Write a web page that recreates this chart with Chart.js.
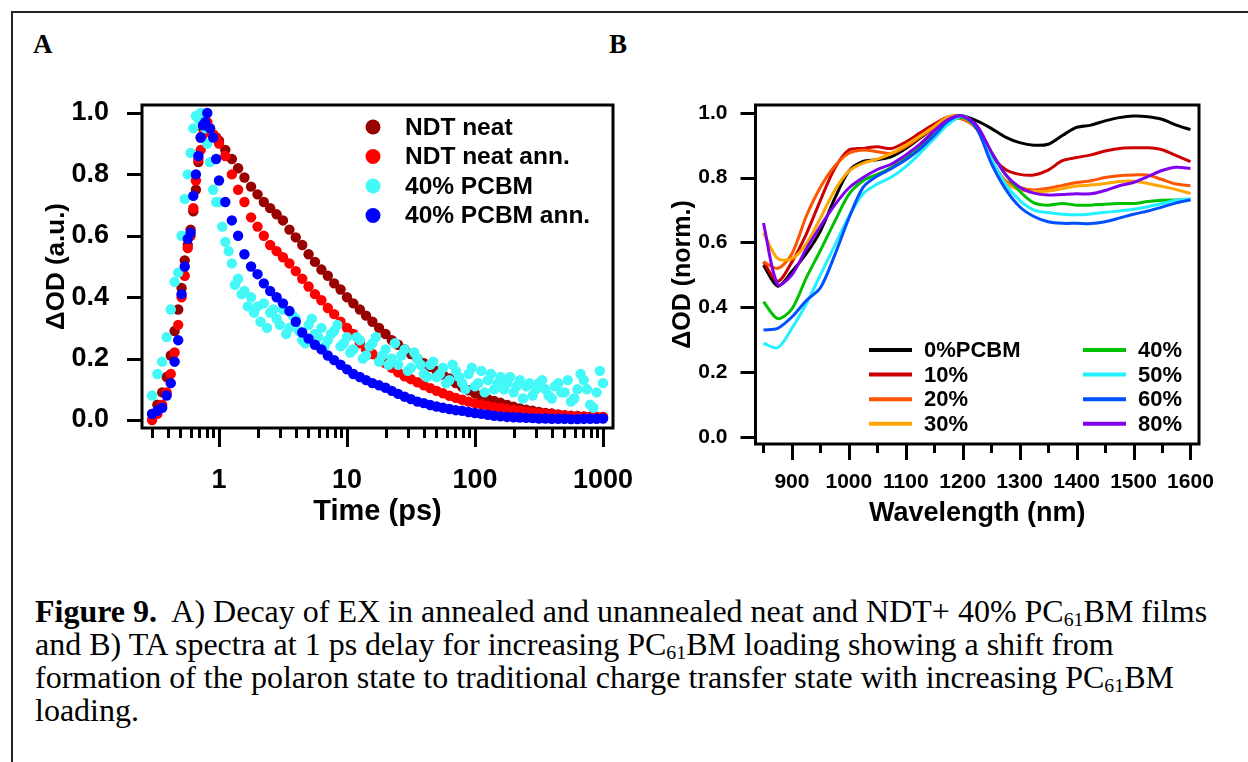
<!DOCTYPE html>
<html>
<head>
<meta charset="utf-8">
<script src="https://cdn.jsdelivr.net/npm/chart.js@4.4.1/dist/chart.umd.min.js"></script>
<style>
  body { margin: 0; background: #fff; }
  #page { position: relative; width: 1248px; height: 762px; overflow: hidden; background: #fff;
          font-family: "Liberation Serif", "Times New Roman", serif; color: #000; }
  .frameTop { position: absolute; left: 11px; top: 11px; width: 1237px; height: 0; border-top: 2px solid #222; }
  .frameLeft { position: absolute; left: 11px; top: 11px; width: 0; height: 751px; border-left: 2px solid #222; }
  .panel { position: absolute; font-weight: bold; font-size: 27px; line-height: 30px; }
  #wrapA { position: absolute; left: 0; top: 80px; width: 640px; height: 470px; }
  #wrapB { position: absolute; left: 640px; top: 80px; width: 608px; height: 470px; }
  #caption { position: absolute; left: 35px; top: 595px; width: 1210px; font-size: 32px; line-height: 33px; white-space: nowrap; }
  #caption sub { font-size: 0.62em; vertical-align: -0.22em; line-height: 0; }
</style>
</head>
<body>
<div id="page">
  <div class="frameTop"></div>
  <div class="frameLeft"></div>
  <div class="panel" style="left:33px; top:29px;">A</div>
  <div class="panel" style="left:609px; top:29px;">B</div>
  <div id="wrapA"><canvas id="chartA" width="640" height="470"></canvas></div>
  <div id="wrapB"><canvas id="chartB" width="608" height="470"></canvas></div>
  <div id="caption"><b>Figure 9.</b>&nbsp; A) Decay of EX in annealed and unannealed neat and NDT+ 40% PC<sub>61</sub>BM films<br>and B) TA spectra at 1 ps delay for increasing PC<sub>61</sub>BM loading showing a shift from<br>formation of the polaron state to traditional charge transfer state with increasing PC<sub>61</sub>BM<br>loading.</div>
</div>
<script>
// ---- panel A: exciton decay (time in ps, log axis) ----
const timePs = [0.30, 0.33, 0.36, 0.39, 0.42, 0.45, 0.48, 0.51, 0.54, 0.57, 0.60, 0.63, 0.66, 0.69, 0.72, 0.75, 0.78, 0.81, 0.85, 0.90, 0.95,
  1.00, 1.12, 1.26, 1.41, 1.58, 1.78, 2.00, 2.24, 2.51, 2.82, 3.16, 3.55, 3.98, 4.47, 5.01, 5.62, 6.31, 7.08, 7.94, 8.91,
  10.0, 11.2, 12.6, 14.1, 15.8, 17.8, 20.0, 22.4, 25.1, 28.2, 31.6, 35.5, 39.8, 44.7, 50.1, 56.2, 63.1, 70.8, 79.4, 89.1,
  100, 112, 126, 141, 158, 178, 200, 224, 251, 282, 316, 355, 398, 447, 501, 562, 631, 708, 794, 891, 1000];

const neat = [0.02, 0.05, 0.09, 0.14, 0.21, 0.29, 0.36, 0.43, 0.52, 0.57, 0.62, 0.68, 0.75, 0.84, 0.92, 0.95, 0.97, 0.96, 0.95, 0.93, 0.92,
  0.91, 0.88, 0.85, 0.82, 0.79, 0.76, 0.735, 0.71, 0.69, 0.67, 0.65, 0.62, 0.595, 0.57, 0.54, 0.515, 0.49, 0.47, 0.445, 0.425,
  0.40, 0.38, 0.36, 0.34, 0.32, 0.30, 0.28, 0.26, 0.245, 0.23, 0.215, 0.20, 0.185, 0.173, 0.16, 0.148, 0.135, 0.12, 0.108, 0.097,
  0.087, 0.077, 0.068, 0.062, 0.056, 0.049, 0.043, 0.038, 0.034, 0.030, 0.026, 0.023, 0.021, 0.018, 0.016, 0.014, 0.013, 0.012, 0.011, 0.010, 0.010];

const neatAnn = [0.00, 0.02, 0.05, 0.09, 0.15, 0.22, 0.31, 0.40, 0.47, 0.56, 0.60, 0.69, 0.78, 0.85, 0.88, 0.93, 0.96, 0.97, 0.95, 0.93, 0.92,
  0.90, 0.86, 0.80, 0.75, 0.71, 0.66, 0.63, 0.60, 0.57, 0.55, 0.53, 0.51, 0.485, 0.46, 0.435, 0.41, 0.39, 0.365, 0.345, 0.32,
  0.30, 0.28, 0.25, 0.23, 0.215, 0.20, 0.185, 0.17, 0.155, 0.142, 0.133, 0.123, 0.113, 0.104, 0.095, 0.087, 0.079, 0.072, 0.066, 0.060,
  0.055, 0.051, 0.046, 0.042, 0.039, 0.036, 0.033, 0.030, 0.027, 0.025, 0.022, 0.020, 0.018, 0.016, 0.015, 0.013, 0.012, 0.011, 0.010, 0.010, 0.009];

const pcbm40 = [0.08, 0.15, 0.19, 0.27, 0.36, 0.45, 0.48, 0.60, 0.72, 0.80, 0.87, 0.95, 0.99, 0.98, 1.00, 0.97, 0.95, 0.90, 0.84, 0.75, 0.71,
  0.71, 0.58, 0.51, 0.46, 0.42, 0.40, 0.37, 0.38, 0.35, 0.33, 0.36, 0.30, 0.33, 0.26, 0.31, 0.28, 0.30, 0.26, 0.29, 0.24,
  0.27, 0.23, 0.26, 0.21, 0.25, 0.19, 0.23, 0.20, 0.18, 0.23, 0.17, 0.20, 0.15, 0.18, 0.14, 0.17, 0.13, 0.16, 0.12, 0.15,
  0.11, 0.16, 0.13, 0.10, 0.14, 0.12, 0.09, 0.13, 0.11, 0.08, 0.12, 0.10, 0.07, 0.12, 0.09, 0.06, 0.10, 0.13, 0.05, 0.09, 0.12];

// the 40% PCBM trace is noisy: extra scattered samples between the grid times
const pcbm40ExtraTime = [1.06, 1.19, 1.33, 1.50, 1.68, 1.88, 2.11, 2.37, 2.66, 2.99, 3.35, 3.76, 4.22, 4.73, 5.31, 5.96, 6.68, 7.50, 8.41, 9.44,
  10.6, 11.9, 13.3, 15.0, 16.8, 18.8, 21.1, 23.7, 26.6, 29.9, 33.5, 37.6, 42.2, 47.3, 53.1, 59.6, 66.8, 75.0, 84.1, 94.4,
  106, 119, 133, 150, 168, 188, 211, 237, 266, 299, 335, 376, 422, 473, 531, 596, 668, 750, 841, 944];
const pcbm40Extra = [0.63, 0.55, 0.44, 0.41, 0.37, 0.35, 0.32, 0.30, 0.36, 0.31, 0.28, 0.34, 0.29, 0.25, 0.33, 0.27, 0.24, 0.28, 0.31, 0.25,
  0.22, 0.27, 0.20, 0.24, 0.27, 0.21, 0.18, 0.25, 0.21, 0.16, 0.22, 0.18, 0.14, 0.19, 0.15, 0.12, 0.18, 0.14, 0.10, 0.17,
  0.12, 0.09, 0.15, 0.12, 0.10, 0.14, 0.11, 0.07, 0.12, 0.10, 0.13, 0.08, 0.11, 0.09, 0.13, 0.07, 0.15, 0.10, 0.04, 0.16];

const pcbm40Ann = [0.02, 0.03, 0.04, 0.08, 0.12, 0.19, 0.26, 0.41, 0.50, 0.59, 0.61, 0.73, 0.80, 0.86, 0.92, 0.96, 0.97, 1.00, 0.95, 0.92, 0.85,
  0.78, 0.71, 0.65, 0.60, 0.54, 0.50, 0.475, 0.445, 0.42, 0.40, 0.38, 0.355, 0.32, 0.285, 0.265, 0.245, 0.23, 0.21, 0.195, 0.18,
  0.165, 0.15, 0.14, 0.13, 0.12, 0.113, 0.105, 0.095, 0.085, 0.076, 0.068, 0.060, 0.055, 0.049, 0.044, 0.040, 0.036, 0.032, 0.030, 0.026,
  0.023, 0.020, 0.017, 0.014, 0.012, 0.010, 0.009, 0.008, 0.007, 0.006, 0.005, 0.005, 0.004, 0.004, 0.004, 0.003, 0.003, 0.004, 0.004, 0.004, 0.005];

const timeTicks = [0.3, 0.4, 0.5, 0.6, 0.7, 0.8, 0.9, 1, 2, 3, 4, 5, 6, 7, 8, 9, 10, 20, 30, 40, 50, 60, 70, 80, 90,
  100, 200, 300, 400, 500, 600, 700, 800, 900, 1000];
const timeLabels = [1, 10, 100, 1000];
const odTicks = [0, 0.2, 0.4, 0.6, 0.8, 1.0];

// ---- panel B: TA spectra at 1 ps ----
const wavelengthNm = [850, 875, 900, 925, 950, 975, 1000, 1025, 1050, 1075, 1100, 1125, 1150, 1175, 1200, 1225,
  1250, 1275, 1300, 1325, 1350, 1375, 1400, 1425, 1450, 1475, 1500, 1525, 1550, 1575, 1600];
const spec0 = [0.53, 0.465, 0.51, 0.565, 0.635, 0.735, 0.82, 0.85, 0.855, 0.865, 0.89, 0.922, 0.955, 0.985, 0.99, 0.975,
  0.952, 0.925, 0.908, 0.90, 0.903, 0.93, 0.955, 0.962, 0.975, 0.985, 0.99, 0.988, 0.98, 0.962, 0.948];
const spec10 = [0.54, 0.48, 0.54, 0.625, 0.73, 0.828, 0.885, 0.89, 0.895, 0.89, 0.91, 0.938, 0.965, 0.988, 0.985, 0.95,
  0.87, 0.825, 0.81, 0.808, 0.823, 0.852, 0.862, 0.87, 0.882, 0.89, 0.892, 0.892, 0.886, 0.868, 0.849];
const spec20 = [0.54, 0.52, 0.565, 0.68, 0.77, 0.835, 0.875, 0.885, 0.88, 0.875, 0.895, 0.925, 0.955, 0.985, 0.98, 0.95,
  0.855, 0.79, 0.77, 0.762, 0.767, 0.776, 0.785, 0.79, 0.80, 0.806, 0.808, 0.808, 0.794, 0.78, 0.775];
const spec30 = [0.63, 0.55, 0.55, 0.595, 0.675, 0.76, 0.82, 0.845, 0.857, 0.875, 0.90, 0.928, 0.958, 0.988, 0.985, 0.95,
  0.855, 0.785, 0.762, 0.757, 0.759, 0.766, 0.774, 0.777, 0.782, 0.788, 0.789, 0.782, 0.773, 0.763, 0.751];
const spec40 = [0.417, 0.365, 0.395, 0.49, 0.575, 0.664, 0.748, 0.79, 0.81, 0.832, 0.86, 0.896, 0.933, 0.97, 0.985, 0.955,
  0.88, 0.81, 0.758, 0.722, 0.715, 0.72, 0.715, 0.715, 0.718, 0.72, 0.72, 0.726, 0.73, 0.731, 0.732];
const spec50 = [0.289, 0.275, 0.335, 0.41, 0.50, 0.59, 0.68, 0.75, 0.78, 0.802, 0.834, 0.875, 0.92, 0.965, 0.99, 0.955,
  0.86, 0.78, 0.73, 0.70, 0.692, 0.687, 0.685, 0.688, 0.693, 0.697, 0.702, 0.71, 0.72, 0.73, 0.735];
const spec60 = [0.33, 0.335, 0.37, 0.42, 0.46, 0.56, 0.675, 0.77, 0.805, 0.828, 0.855, 0.888, 0.93, 0.975, 0.99, 0.95,
  0.845, 0.765, 0.71, 0.68, 0.664, 0.659, 0.659, 0.658, 0.664, 0.675, 0.687, 0.697, 0.709, 0.722, 0.731];
const spec80 = [0.66, 0.47, 0.50, 0.58, 0.65, 0.715, 0.768, 0.80, 0.825, 0.842, 0.87, 0.903, 0.945, 0.98, 0.99, 0.96,
  0.88, 0.81, 0.77, 0.752, 0.746, 0.748, 0.75, 0.75, 0.76, 0.775, 0.785, 0.803, 0.822, 0.832, 0.828];

const wlTicks = [850, 900, 950, 1000, 1050, 1100, 1150, 1200, 1250, 1300, 1350, 1400, 1450, 1500, 1550, 1600];
const wlLabels = [900, 1000, 1100, 1200, 1300, 1400, 1500, 1600];

Chart.defaults.font.family = "'Liberation Sans', Arial, sans-serif";
Chart.defaults.color = '#000';

// keep Chart.js from shrinking the plot area to make room for edge labels
function fixSize(prop, size) {
  return s => {
    s[prop] = size;
    s.paddingLeft = 0; s.paddingRight = 0; s.paddingTop = 0; s.paddingBottom = 0;
  };
}

// box around the plot area + outward tick marks (Igor style)
const frameTicks = {
  id: 'frameTicks',
  afterDatasetsDraw(chart, args, opts) {
    const ctx = chart.ctx;
    const {left, right, top, bottom} = chart.chartArea;
    const xs = chart.scales.x, ys = chart.scales.y;
    ctx.save();
    ctx.strokeStyle = '#000';
    ctx.lineWidth = 3;
    ctx.strokeRect(left, top, right - left, bottom - top);
    ctx.beginPath();
    ys.ticks.forEach(t => {
      const y = Math.round(ys.getPixelForValue(t.value)) + 0.5;
      ctx.moveTo(left - opts.yLen, y);
      ctx.lineTo(left, y);
    });
    xs.ticks.forEach(t => {
      const x = Math.round(xs.getPixelForValue(t.value)) + 0.5;
      ctx.moveTo(x, bottom);
      ctx.lineTo(x, bottom + (t.major ? opts.majorLen : opts.minorLen));
    });
    ctx.stroke();
    ctx.restore();
  }
};

// legend drawn inside the plot, from the dataset labels/colours
const innerLegend = {
  id: 'innerLegend',
  afterDraw(chart, args, opts) {
    const ctx = chart.ctx;
    ctx.save();
    ctx.font = 'bold ' + opts.fontSize + "px 'Liberation Sans', Arial, sans-serif";
    ctx.textBaseline = 'middle';
    ctx.fillStyle = '#000';
    chart.data.datasets.forEach((ds, i) => {
      const col = Math.floor(i / opts.perColumn);
      const row = i % opts.perColumn;
      const x0 = opts.x[col];
      const y = opts.y + row * opts.rowGap;
      if (opts.kind === 'dot') {
        ctx.fillStyle = ds.backgroundColor;
        ctx.beginPath();
        ctx.arc(x0, y, opts.dotR, 0, Math.PI * 2);
        ctx.fill();
      } else {
        ctx.strokeStyle = ds.borderColor;
        ctx.lineWidth = 4;
        ctx.beginPath();
        ctx.moveTo(x0, y);
        ctx.lineTo(x0 + opts.lineLen, y);
        ctx.stroke();
      }
      ctx.fillStyle = '#000';
      ctx.fillText(ds.label, x0 + opts.textGap, y + 1);
    });
    ctx.restore();
  }
};

const toPoints = (xs, ys) => xs.map((x, i) => ({x: x, y: ys[i]}));

new Chart(document.getElementById('chartA'), {
  type: 'scatter',
  data: {
    datasets: [
      {label: 'NDT neat', data: toPoints(timePs, neat), backgroundColor: '#990000', order: 3},
      {label: 'NDT neat ann.', data: toPoints(timePs, neatAnn), backgroundColor: '#ff0000', order: 2},
      {label: '40% PCBM', data: toPoints(timePs, pcbm40).concat(toPoints(pcbm40ExtraTime, pcbm40Extra)), backgroundColor: '#44f8f8', order: 1},
      {label: '40% PCBM ann.', data: toPoints(timePs, pcbm40Ann), backgroundColor: '#0000ff', order: 0}
    ]
  },
  options: {
    responsive: false,
    animation: false,
    layout: {padding: {left: 0, top: 25, right: 27, bottom: 0}},
    elements: {point: {radius: 5.2, hoverRadius: 5.2, borderWidth: 0}},
    plugins: {
      legend: {display: false},
      tooltip: {enabled: false},
      frameTicks: {yLen: 15, minorLen: 10, majorLen: 19},
      innerLegend: {kind: 'dot', x: [373], y: 47, rowGap: 29.5, perColumn: 4, dotR: 7.5, textGap: 32, fontSize: 24.5}
    },
    scales: {
      x: {
        type: 'logarithmic', min: 0.2503, max: 1197,
        grid: {display: false}, border: {display: false},
        afterBuildTicks: s => { s.ticks = timeTicks.map(v => ({value: v, major: timeLabels.includes(v)})); },
        afterFit: fixSize('height', 122),
        ticks: {autoSkip: false, maxRotation: 0, padding: 28, font: {size: 27, weight: 'bold'},
                callback: v => timeLabels.includes(v) ? String(v) : ''},
        title: {display: true, text: 'Time (ps)', font: {size: 29, weight: 'bold'}, padding: {top: 0, bottom: 21}}
      },
      y: {
        min: -0.026, max: 1.026,
        grid: {display: false}, border: {display: false},
        afterBuildTicks: s => { s.ticks = odTicks.map(v => ({value: v})); },
        afterFit: fixSize('width', 142),
        ticks: {padding: 25, font: {size: 27, weight: 'bold'}, callback: v => v.toFixed(1)},
        title: {display: true, text: 'ΔOD (a.u.)', font: {size: 26, weight: 'bold'}, padding: {top: 41, bottom: 0}}
      }
    }
  },
  plugins: [frameTicks, innerLegend]
});

const specSeries = [
  ['0%PCBM', spec0, '#000000'],
  ['10%', spec10, '#cc0000'],
  ['20%', spec20, '#ff5500'],
  ['30%', spec30, '#ffa500'],
  ['40%', spec40, '#00c000'],
  ['50%', spec50, '#22f0ff'],
  ['60%', spec60, '#0050ff'],
  ['80%', spec80, '#8000ee']
];

new Chart(document.getElementById('chartB'), {
  type: 'line',
  data: {
    datasets: specSeries.map((s, i) => ({
      label: s[0], data: toPoints(wavelengthNm, s[1]), borderColor: s[2], backgroundColor: s[2],
      borderWidth: 3, pointRadius: 0, tension: 0.3, fill: false, order: specSeries.length - i
    }))
  },
  options: {
    responsive: false,
    animation: false,
    layout: {padding: {left: 0, top: 25, right: 49, bottom: 0}},
    plugins: {
      legend: {display: false},
      tooltip: {enabled: false},
      frameTicks: {yLen: 15, minorLen: 9, majorLen: 16},
      innerLegend: {kind: 'line', x: [229, 443], y: 270, rowGap: 24.6, perColumn: 4, lineLen: 43, textGap: 55, fontSize: 22}
    },
    scales: {
      x: {
        type: 'linear', min: 836, max: 1615,
        grid: {display: false}, border: {display: false},
        afterBuildTicks: s => { s.ticks = wlTicks.map(v => ({value: v, major: wlLabels.includes(v)})); },
        afterFit: fixSize('height', 106),
        ticks: {autoSkip: false, maxRotation: 0, padding: 18, font: {size: 21, weight: 'bold'},
                callback: v => wlLabels.includes(v) ? String(v) : ''},
        title: {display: true, text: 'Wavelength (nm)', font: {size: 27, weight: 'bold'}, padding: {top: 0, bottom: 20}}
      },
      y: {
        min: -0.022, max: 1.024,
        grid: {display: false}, border: {display: false},
        afterBuildTicks: s => { s.ticks = odTicks.map(v => ({value: v})); },
        afterFit: fixSize('width', 115.5),
        ticks: {padding: 20, font: {size: 21, weight: 'bold'}, callback: v => v.toFixed(1)},
        title: {display: true, text: 'ΔOD (norm.)', font: {size: 25, weight: 'bold'}, padding: {top: 28, bottom: 0}}
      }
    }
  },
  plugins: [frameTicks, innerLegend]
});
</script>
</body>
</html>
